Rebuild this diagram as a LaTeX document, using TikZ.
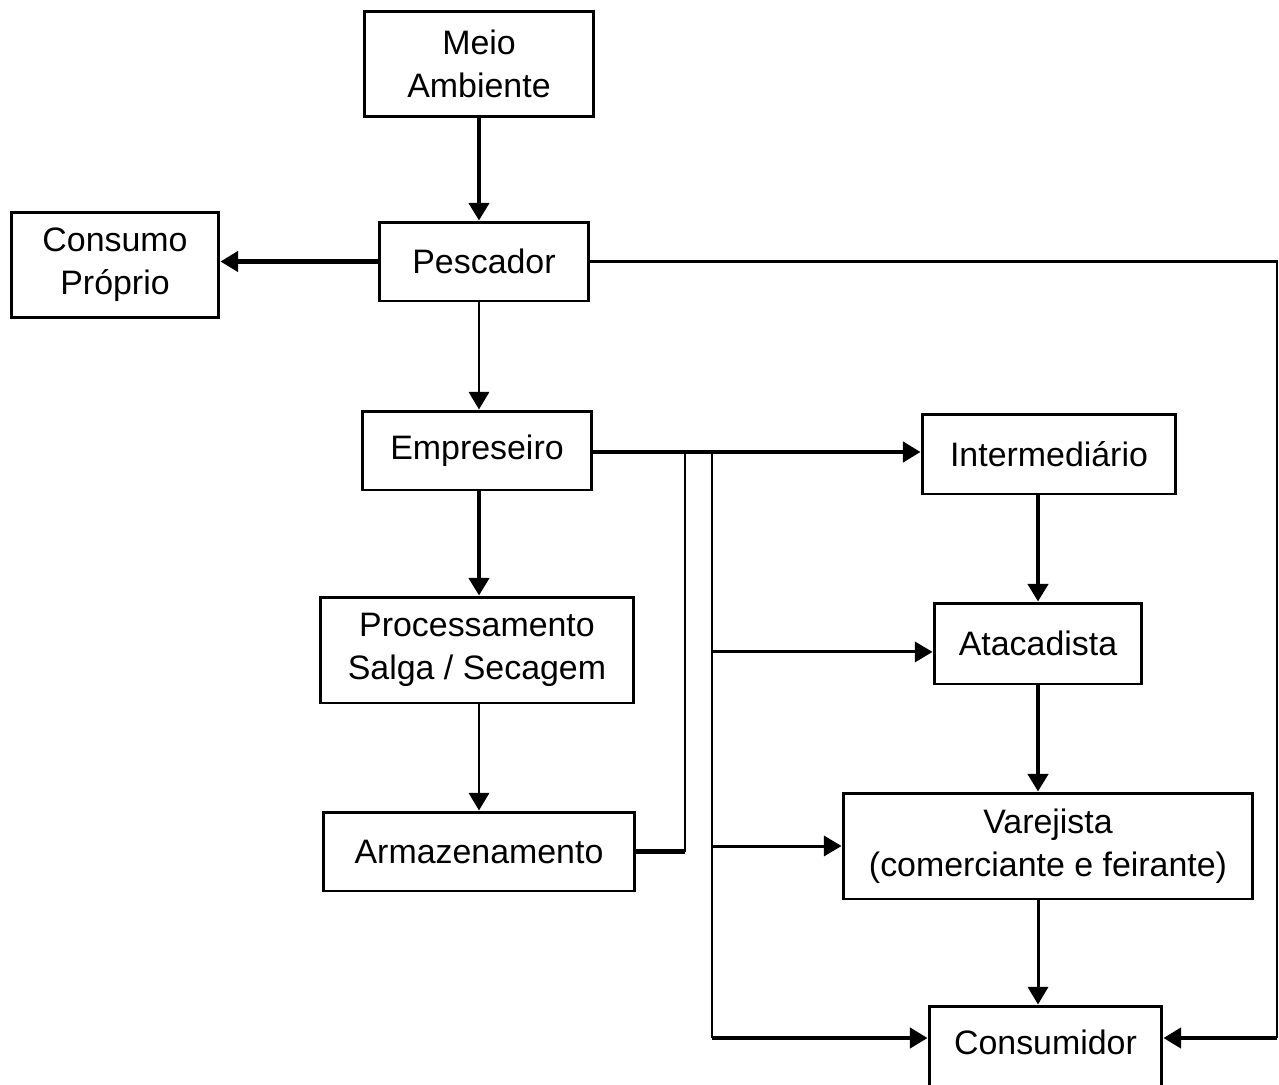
\documentclass[tikz,border=0pt]{standalone}
\usepackage{fontspec}
\setmainfont{Liberation Sans}
\usetikzlibrary{arrows.meta}

\begin{document}
\begin{tikzpicture}[x=0.02cm,y=-0.02cm,
    box/.style={draw,line width=1.7pt,inner sep=0pt,align=center,font=\fontsize{19.3}{24.3}\selectfont},
    heavy/.style={line width=2.3pt},
    medium/.style={line width=1.7pt},
    light/.style={line width=1.15pt},
    tip/.style={-{Triangle[length=10pt,width=11.4pt]}}]
    \useasboundingbox (0,0) rectangle (1279,1085);
    \clip (0,0) rectangle (1279,1085);
    \node[box,minimum width=4.6cm,minimum height=2.12cm] (meio) at (479,64) {Meio\\Ambiente};
    \node[box,minimum width=4.2cm,minimum height=1.58cm] (pescador) at (484,261.5) {Pescador};
    \node[box,minimum width=4.16cm,minimum height=2.12cm] (consumo) at (115,265) {Consumo\\Próprio};
    \node[box,minimum width=4.6cm,minimum height=1.58cm] (empreseiro) at (477,450.5) {Empreseiro};
    \node[box,minimum width=5.08cm,minimum height=1.6cm] (interm) at (1049,454) {Intermediário};
    \node[box,minimum width=6.28cm,minimum height=2.12cm] (process) at (477,650) {Processamento\\Salga / Secagem};
    \node[box,minimum width=4.16cm,minimum height=1.62cm] (atacad) at (1038,643.5) {Atacadista};
    \node[box,minimum width=6.24cm,minimum height=1.58cm] (armaz) at (479,851.5) {Armazenamento};
    \node[box,minimum width=8.2cm,minimum height=2.12cm] (varej) at (1048,846) {Varejista\\(comerciante e feirante)};
    \node[box,minimum width=4.66cm,text height=0.96cm,text depth=0.92cm,anchor=base] (consum) at (1045.5,1054) {Consumidor};
    \path (479,0) coordinate (colA) (1038,0) coordinate (colB) (1277,0) coordinate (rim)
          (685,452) coordinate (busA) (712,452) coordinate (busB);
    \path ([yshift=9.1pt]consum.base west) coordinate (consumL)
          ([yshift=9.1pt]consum.base east) coordinate (consumR)
          ([yshift=-4.8pt]atacad.west) coordinate (atacIn);
    \draw[heavy,tip] (colA |- meio.south) -- (colA |- pescador.north);
    \draw[heavy,tip] (pescador.west) -- (pescador.west -| consumo.east);
    \draw[medium,tip] (colA |- pescador.south) -- (colA |- empreseiro.north);
    \draw[heavy,tip] (colA |- empreseiro.south) -- (colA |- process.north);
    \draw[medium,tip] (colA |- process.south) -- (colA |- armaz.north);
    \draw[heavy,tip] (empreseiro.east |- busA) -- (busA -| interm.west);
    \draw[heavy] (armaz.east) -- (armaz.east -| busA);
    \draw[light] (armaz.east -| busA) -- (busA);
    \draw[light] (busB) -- (busB |- consumL);
    \draw[medium,tip] (busB |- atacIn) -- (atacIn);
    \draw[medium,tip] (busB |- varej.west) -- (varej.west);
    \draw[heavy,tip] (busB |- consumL) -- (consumL);
    \draw[heavy,tip] (colB |- interm.south) -- (colB |- atacad.north);
    \draw[heavy,tip] (colB |- atacad.south) -- (colB |- varej.north);
    \draw[medium,tip] (colB |- varej.south) -- (colB |- consum.north);
    \draw[light] (pescador.east) -- (pescador.east -| rim) -- (rim |- consumR);
    \draw[heavy,tip] (rim |- consumR) -- (consumR);
\end{tikzpicture}
\end{document}
